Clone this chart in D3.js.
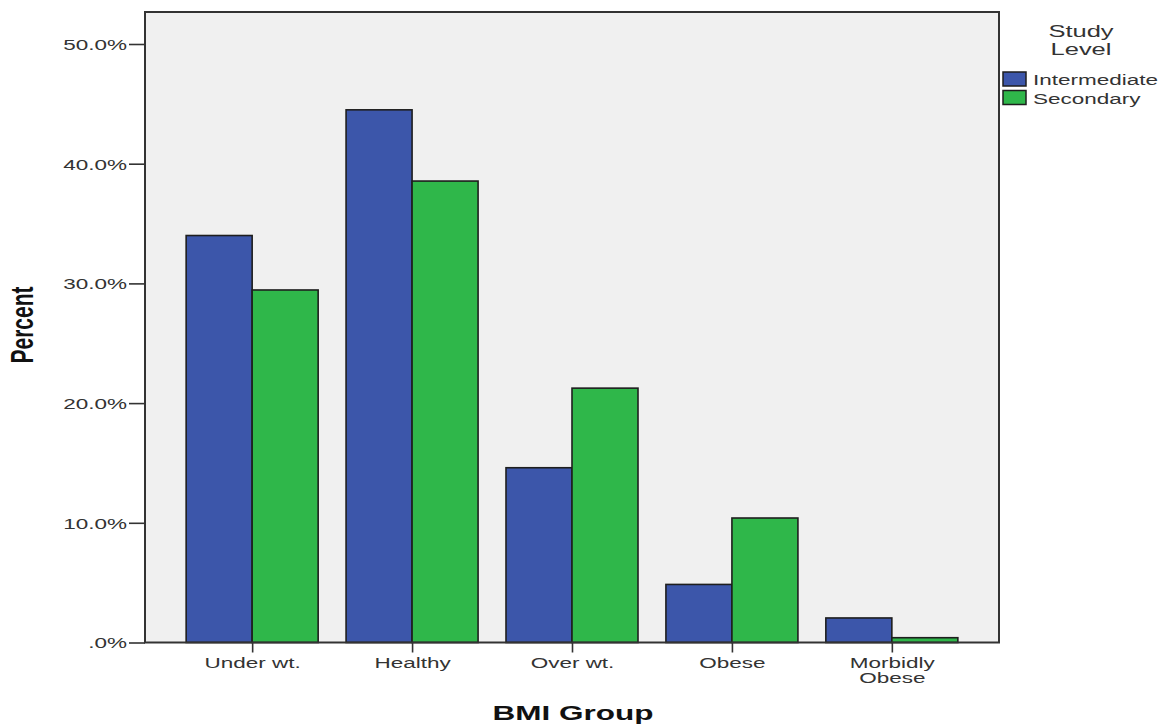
<!DOCTYPE html>
<html>
<head>
<meta charset="utf-8">
<script src="https://cdn.jsdelivr.net/npm/d3@7"></script>
<style>
  html, body { margin: 0; padding: 0; background: #ffffff; }
  svg { display: block; font-family: "Liberation Sans", Arial, sans-serif; }
</style>
</head>
<body>
<svg id="chart" width="1164" height="725"></svg>
<script>
// ---- data ----
const categories = ["Under wt.", "Healthy", "Over wt.", "Obese", "Morbidly Obese"];
const xTickLabels = [["Under wt."], ["Healthy"], ["Over wt."], ["Obese"], ["Morbidly", "Obese"]];
const seriesNames = ["Intermediate", "Secondary"];
const intermediate = [34.0, 44.5, 14.6, 4.85, 2.05];
const secondary = [29.45, 38.55, 21.25, 10.4, 0.4];
const yTickValues = [0, 10, 20, 30, 40, 50];
const yTickLabels = [".0%", "10.0%", "20.0%", "30.0%", "40.0%", "50.0%"];
const legendTitle = ["Study", "Level"];
const xTitle = "BMI Group";
const yTitle = "Percent";

// ---- layout ----
const plotLeft = 145, plotRight = 999, plotTop = 12, plotBottom = 642.5;
const SX = 1.5; // horizontal stretch of all text
const colors = { "Intermediate": "#3c56aa", "Secondary": "#2fb74a" };

const svg = d3.select("#chart");

const x = d3.scalePoint().domain(categories).range([plotLeft, plotRight]).padding(0.67);
const xSub = d3.scaleBand().domain(seriesNames).range([-66, 66]).padding(0);
const y = d3.scaleLinear().domain([0, 50]).range([plotBottom, 44]);

// plot background
svg.append("rect")
  .attr("x", plotLeft).attr("y", plotTop)
  .attr("width", plotRight - plotLeft).attr("height", plotBottom - plotTop)
  .attr("fill", "#f0f0f0");

// bars
const rows = categories.map((c, i) => ({ cat: c, values: [
  { s: "Intermediate", v: intermediate[i] },
  { s: "Secondary", v: secondary[i] }
]}));

const groups = svg.append("g").selectAll("g").data(rows).join("g")
  .attr("transform", d => `translate(${x(d.cat)},0)`);
groups.selectAll("rect").data(d => d.values).join("rect")
  .attr("x", d => xSub(d.s))
  .attr("width", xSub.bandwidth())
  .attr("y", d => y(d.v))
  .attr("height", d => y(0) - y(d.v))
  .attr("fill", d => colors[d.s])
  .attr("stroke", "#1e1e1e")
  .attr("stroke-width", 1.6);

// frame
svg.append("rect")
  .attr("x", plotLeft).attr("y", plotTop)
  .attr("width", plotRight - plotLeft).attr("height", plotBottom - plotTop)
  .attr("fill", "none").attr("stroke", "#333").attr("stroke-width", 2);

// y axis
const yAxis = d3.axisLeft(y).tickValues(yTickValues).tickSize(16).tickPadding(2)
  .tickFormat((d, i) => yTickLabels[i]);
const yg = svg.append("g").attr("transform", `translate(${plotLeft},0)`).call(yAxis);
yg.select(".domain").remove();
yg.selectAll(".tick line").attr("stroke", "#333").attr("stroke-width", 1.6);
yg.selectAll(".tick text")
  .attr("font-size", 15).attr("fill", "#333")
  .attr("font-family", "'Liberation Sans', Arial, sans-serif")
  .attr("x", -18 / SX)
  .attr("dy", "0.36em")
  .attr("transform", `scale(${SX},1)`);

// x axis
const xAxis = d3.axisBottom(x).tickSize(10).tickFormat("");
const xg = svg.append("g").attr("transform", `translate(0,${plotBottom})`).call(xAxis);
xg.select(".domain").remove();
xg.selectAll(".tick line").attr("stroke", "#333").attr("stroke-width", 1.6);
xg.selectAll(".tick text").remove();
xg.selectAll(".tick").each(function(d, i) {
  const t = d3.select(this).append("text")
    .attr("transform", `scale(${SX},1)`)
    .attr("text-anchor", "middle")
    .attr("font-size", 15).attr("fill", "#333")
    .attr("font-family", "'Liberation Sans', Arial, sans-serif");
  xTickLabels[i].forEach((line, k) => {
    t.append("tspan").attr("x", 0).attr("y", 25.5 + k * 15).text(line);
  });
});

// axis titles
svg.append("text")
  .attr("transform", `translate(573,720) scale(${SX},1)`)
  .attr("text-anchor", "middle")
  .attr("font-size", 21).attr("font-weight", "bold").attr("fill", "#111")
  .text(xTitle);

svg.append("text")
  .attr("transform", `translate(33,325) scale(${SX},1) rotate(-90)`)
  .attr("text-anchor", "middle")
  .attr("font-size", 21).attr("font-weight", "bold").attr("fill", "#111")
  .text(yTitle);

// legend
legendTitle.forEach((line, k) => {
  svg.append("text")
    .attr("transform", `translate(1081,${37 + k * 18}) scale(${SX},1)`)
    .attr("text-anchor", "middle")
    .attr("font-size", 17).attr("fill", "#333")
    .text(line);
});
const lg = svg.append("g").selectAll("g").data(seriesNames).join("g")
  .attr("transform", (d, i) => `translate(1003,${72 + i * 18.5})`);
lg.append("rect")
  .attr("width", 23).attr("height", 14)
  .attr("fill", d => colors[d])
  .attr("stroke", "#1e1e1e").attr("stroke-width", 1.5);
lg.append("text")
  .attr("transform", `translate(30,13) scale(${SX},1)`)
  .attr("font-size", 15).attr("fill", "#333")
  .text(d => d);
</script>
</body>
</html>
